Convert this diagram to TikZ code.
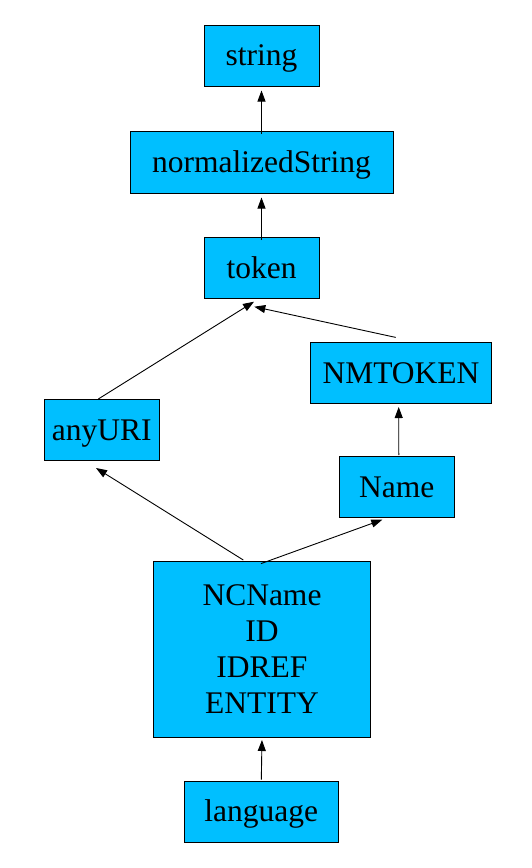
\documentclass[tikz,border=0pt]{standalone}
\usepackage{fontspec}
\setmainfont{Liberation Serif}
\usetikzlibrary{arrows.meta,calc}
\definecolor{boxfill}{HTML}{00BFFF}
\tikzset{
  typebox/.style={draw=black, line width=1pt, fill=boxfill, inner sep=0pt,
    font=\fontsize{31.5}{36}\selectfont, align=center},
  oneline/.style={typebox, text height=20pt, text depth=0pt, minimum height=61pt},
  arr/.style={line width=0.9pt, -{Triangle[length=11pt,width=8pt]}}
}
\begin{document}
\begin{tikzpicture}[x=1pt,y=-1pt]
\path[use as bounding box] (0,0) rectangle (532,868);
\node[oneline, minimum width=115pt] (string) at (261.5,55.5) {string};
\node[oneline, minimum width=263pt, minimum height=62pt] (normalizedString) at (261.5,162) {normalizedString};
\node[oneline, minimum width=115pt] (token) at (261.5,268) {token};
\node[oneline, minimum width=181pt] (NMTOKEN) at (401,373) {NMTOKEN};
\node[oneline, minimum width=115pt] (anyURI) at (101.8,430) {anyURI};
\node[oneline, minimum width=115pt] (Name) at (396.8,487) {Name};
\node[typebox, minimum width=217pt, minimum height=176pt] (NCName) at (262,649.5) {NCName\\ID\\IDREF\\ENTITY};
\node[oneline, minimum width=154pt] (language) at (261.3,811.7) {language};

\draw[arr, shorten <=-3pt, shorten >=4pt] (normalizedString.north) -- (string.south);
\draw[arr, shorten <=-3pt, shorten >=4pt] (token.north) -- (normalizedString.south);
\draw[arr] ($(anyURI.north)+(-3.5,0)$) -- ($(token.south)+(-7.5,2.7)$);
\draw[arr] ($(NMTOKEN.north)+(-5.3,-4.6)$) -- ($(token.south)+(-7.2,7.7)$);
\draw[arr] ($(Name.north)+(2,-1)$) -- ($(NMTOKEN.south)+(-2.3,3)$);
\draw[arr] ($(NCName.north)+(-18.7,-1)$) -- ($(anyURI.south)+(-5.8,7)$);
\draw[arr] ($(NCName.north)+(-1,2.6)$) -- ($(Name.south)+(-14.5,1.7)$);
\draw[arr, shorten <=1pt, shorten >=2pt] (language.north) -- (NCName.south);
\end{tikzpicture}
\end{document}
